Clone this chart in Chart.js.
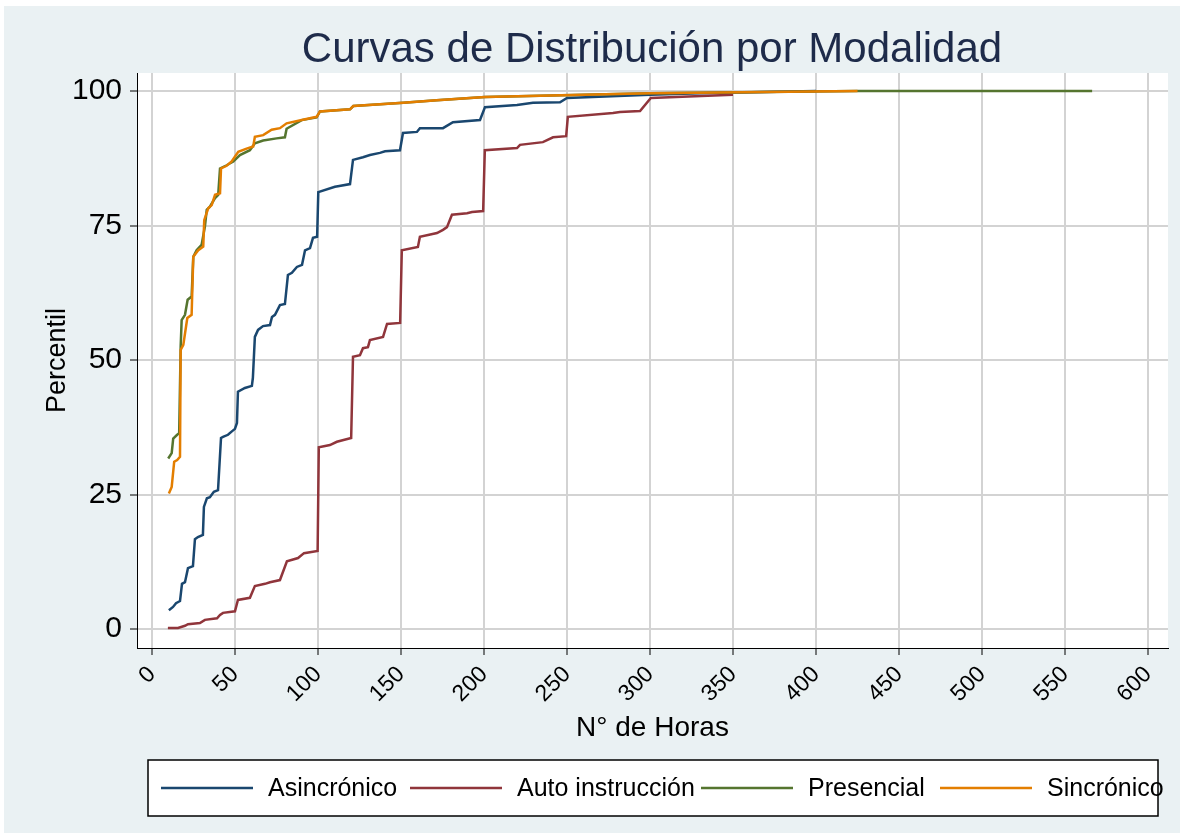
<!DOCTYPE html>
<html>
<head>
<meta charset="utf-8">
<script src="https://cdn.jsdelivr.net/npm/chart.js@4.4.1/dist/chart.umd.min.js"></script>
<style>
  html, body { margin: 0; padding: 0; background: #fff; }
</style>
</head>
<body>
<canvas id="plotCurvas" width="1184" height="833"></canvas>
<script>
// datos: horas acumuladas vs percentil
var asincHoras = [10.2, 12.7, 14.5, 16.9, 18.1, 19.9, 21.7, 24.7, 25.9, 27.7, 30.7, 31.3, 33.1, 34.9, 37.3, 39.8,
  41.6, 42.8, 45.8, 47.6, 50.0, 51.2, 51.8, 56.0, 60.2, 60.8, 62.0, 63.9, 66.9, 71.1, 72.3, 74.1, 77.1, 80.1,
  81.9, 84.3, 87.3, 90.4, 92.2, 95.2, 97.0, 99.5, 100.2, 110.2, 112.0, 119.3, 121.1, 127.1, 131.3, 137.3,
  140.4, 149.4, 151.2, 159.6, 161.4, 175.3, 181.3, 197.6, 200.6, 219.9, 229.5, 245.8, 250.0, 300.0, 330.0, 400.0];
var asincPct = [3.5, 4.1, 4.8, 5.2, 8.4, 8.7, 11.3, 11.7, 16.7, 17.1, 17.5, 22.7, 24.3, 24.5, 25.5, 25.8,
  35.5, 35.7, 36.1, 36.6, 37.2, 38.3, 44.1, 44.8, 45.2, 46.7, 54.3, 55.6, 56.3, 56.5, 58.0, 58.4, 60.2, 60.4,
  65.8, 66.2, 67.3, 67.7, 70.4, 70.8, 72.7, 72.9, 81.2, 82.2, 82.3, 82.7, 87.2, 87.7, 88.1, 88.5,
  88.8, 89.0, 92.2, 92.4, 93.1, 93.1, 94.2, 94.6, 97.0, 97.4, 97.8, 97.9, 98.7, 99.3, 99.6, 100];

var autoHoras = [9.6, 15.7, 19.9, 21.7, 28.9, 31.9, 39.2, 41.0, 42.8, 50.0, 51.8, 59.0, 62.0, 68.1, 71.1, 77.1,
  81.3, 88.0, 91.6, 99.8, 100.5, 107.2, 111.4, 120.0, 121.1, 125.3, 127.1, 130.1, 131.3, 139.2, 141.6, 149.5,
  150.5, 160.2, 161.4, 171.7, 175.3, 177.7, 180.7, 189.8, 192.8, 199.5, 200.5, 219.9, 221.7, 235.5, 241.6,
  249.5, 250.5, 277.7, 281.9, 294.0, 300.5, 350.0];
var autoPct = [0.2, 0.2, 0.6, 0.9, 1.1, 1.7, 2.0, 2.6, 3.0, 3.3, 5.4, 5.8, 8.0, 8.4, 8.7, 9.1,
  12.6, 13.2, 14.1, 14.5, 33.8, 34.2, 34.8, 35.5, 50.6, 50.9, 52.2, 52.4, 53.7, 54.3, 56.7, 56.9,
  70.4, 71.0, 72.9, 73.6, 74.2, 74.7, 77.0, 77.3, 77.5, 77.7, 89.0, 89.4, 90.0, 90.5, 91.4,
  91.6, 95.2, 95.9, 96.1, 96.3, 98.7, 99.3];

var presHoras = [9.8, 11.9, 12.8, 15.2, 16.4, 17.3, 17.9, 19.9, 21.5, 23.9, 24.9, 26.9, 29.9, 31.9, 33.0, 34.9,
  38.0, 39.9, 41.0, 45.0, 49.0, 53.0, 59.0, 62.0, 67.0, 75.1, 80.1, 81.1, 90.2, 99.2, 101.2, 119.3, 121.3,
  151.4, 171.5, 200.6, 300.0, 425.0, 566.3];
var presPct = [31.7, 32.7, 35.4, 36.1, 36.4, 52.5, 57.4, 58.4, 61.2, 61.8, 69.2, 70.4, 71.4, 74.8, 77.9, 78.5,
  80.1, 80.7, 85.6, 86.2, 86.9, 88.1, 89.0, 90.3, 90.8, 91.2, 91.4, 93.0, 94.6, 95.1, 96.2, 96.6, 97.2,
  97.8, 98.3, 98.9, 99.6, 100, 100];

var sincHoras = [10.2, 11.9, 13.4, 15.2, 16.9, 17.3, 18.9, 21.3, 23.9, 24.9, 27.9, 30.9, 31.5, 33.9, 36.0, 38.0,
  41.0, 41.6, 45.0, 48.0, 52.0, 57.0, 61.0, 62.0, 67.0, 72.1, 77.1, 81.1, 90.2, 99.2, 101.2, 119.3, 121.3,
  151.4, 171.5, 200.6, 300.0, 425.0];
var sincPct = [25.2, 26.4, 31.1, 31.4, 32.0, 51.9, 52.8, 57.8, 58.4, 69.2, 70.4, 71.1, 76.0, 78.2, 78.8, 80.7,
  81.0, 85.6, 86.1, 86.9, 88.7, 89.3, 89.7, 91.5, 91.8, 92.8, 93.1, 94.0, 94.6, 95.2, 96.2, 96.6, 97.2,
  97.8, 98.3, 98.9, 99.6, 100];

var modalidades = ["Asincrónico", "Auto instrucción", "Presencial", "Sincrónico"];
var colores = ["#1a476f", "#90353b", "#55752f", "#e37e00"];
var xTicks = [0, 50, 100, 150, 200, 250, 300, 350, 400, 450, 500, 550, 600];
var yTicks = [0, 25, 50, 75, 100];

var FONT = '"Liberation Sans", Arial, sans-serif';

function puntos(horas, pct) {
  return horas.map(function (h, i) {
    return { x: h, y: pct[i] };
  });
}

var series = [
  puntos(asincHoras, asincPct),
  puntos(autoHoras, autoPct),
  puntos(presHoras, presPct),
  puntos(sincHoras, sincPct)
];

// fondo gris azulado, area de grafico blanca, titulo y leyenda estilo Stata
var fondoStata = {
  id: "fondoStata",
  beforeDraw: function (chart) {
    var ctx = chart.ctx;
    var a = chart.chartArea;
    ctx.save();
    ctx.fillStyle = "#ffffff";
    ctx.fillRect(0, 0, chart.width, chart.height);
    ctx.fillStyle = "#eaf1f3";
    ctx.fillRect(4, 6, chart.width - 8, chart.height - 6);
    ctx.fillStyle = "#ffffff";
    ctx.fillRect(a.left, a.top, a.right - a.left, a.bottom - a.top);

    ctx.fillStyle = "#1e2b4a";
    ctx.font = "42px " + FONT;
    ctx.textAlign = "center";
    ctx.textBaseline = "alphabetic";
    ctx.fillText("Curvas de Distribución por Modalidad", 652, 62);
    ctx.restore();
  },
  afterDraw: function (chart) {
    var ctx = chart.ctx;
    var legendX = [161, 410, 701, 940];
    var yMid = 788;
    ctx.save();
    ctx.fillStyle = "#ffffff";
    ctx.fillRect(148, 760, 1010, 56);
    ctx.strokeStyle = "#000000";
    ctx.lineWidth = 1.5;
    ctx.strokeRect(148, 760, 1010, 56);
    ctx.font = "25px " + FONT;
    ctx.textBaseline = "middle";
    ctx.textAlign = "left";
    chart.data.datasets.forEach(function (ds, i) {
      var x0 = legendX[i];
      ctx.strokeStyle = ds.borderColor;
      ctx.lineWidth = 2.5;
      ctx.beginPath();
      ctx.moveTo(x0, yMid);
      ctx.lineTo(x0 + 92, yMid);
      ctx.stroke();
      ctx.fillStyle = "#000000";
      ctx.fillText(ds.label, x0 + 107, yMid + 1);
    });
    ctx.restore();
  }
};

var datasets = modalidades.map(function (nombre, i) {
  return {
    label: nombre,
    data: series[i],
    borderColor: colores[i],
    backgroundColor: colores[i],
    borderWidth: 2.5,
    pointRadius: 0,
    tension: 0,
    fill: false,
    order: modalidades.length - i
  };
});

new Chart(document.getElementById("plotCurvas"), {
  type: "line",
  data: { datasets: datasets },
  plugins: [fondoStata],
  options: {
    responsive: false,
    animation: false,
    devicePixelRatio: 1,
    layout: { padding: { left: 0, top: 73, right: 16, bottom: 85 } },
    plugins: {
      legend: { display: false },
      title: { display: false },
      tooltip: { enabled: false }
    },
    scales: {
      x: {
        type: "linear",
        min: -9,
        max: 612,
        afterBuildTicks: function (scale) {
          scale.ticks = xTicks.map(function (v) { return { value: v }; });
        },
        afterFit: function (scale) { scale.height = 100; },
        ticks: {
          minRotation: 45,
          maxRotation: 45,
          padding: 6,
          color: "#000",
          font: { family: FONT, size: 23 }
        },
        grid: { color: "#d3d3d3", lineWidth: 2, tickColor: "#000", tickWidth: 1, tickLength: 7 },
        border: { color: "#000", width: 1 },
        title: {
          display: true,
          text: "N° de Horas",
          color: "#000",
          font: { family: FONT, size: 28 },
          padding: { top: 0, bottom: 3 }
        }
      },
      y: {
        type: "linear",
        min: -3.53,
        max: 103.35,
        afterBuildTicks: function (scale) {
          scale.ticks = yTicks.map(function (v) { return { value: v }; });
        },
        afterFit: function (scale) { scale.width = 137; },
        ticks: {
          padding: 8,
          color: "#000",
          font: { family: FONT, size: 30 }
        },
        grid: { color: "#d3d3d3", lineWidth: 2, tickColor: "#000", tickWidth: 1, tickLength: 7 },
        border: { color: "#000", width: 1 },
        title: {
          display: true,
          text: "Percentil",
          color: "#000",
          font: { family: FONT, size: 27 },
          padding: { top: 41, bottom: 0 }
        }
      }
    }
  }
});
</script>
</body>
</html>
